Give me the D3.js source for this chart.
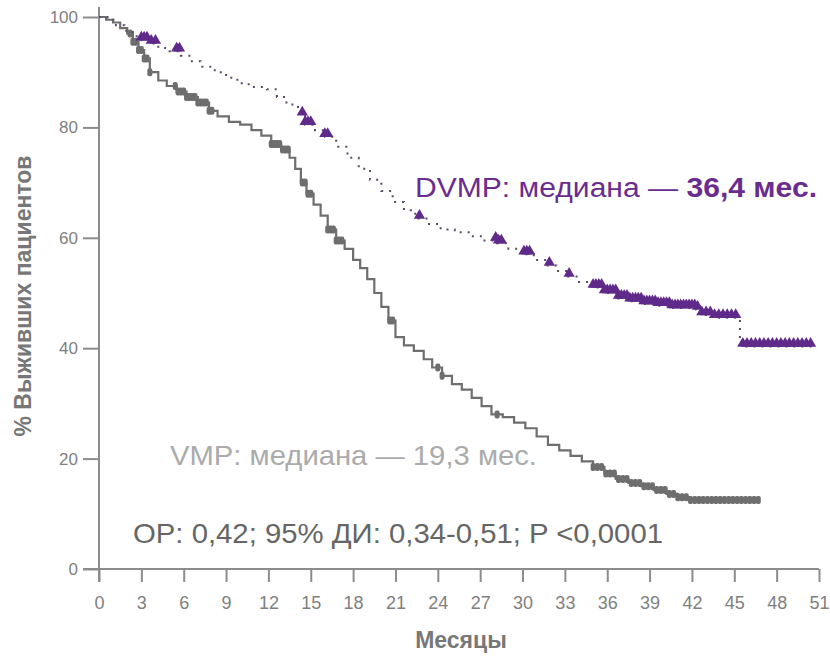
<!DOCTYPE html>
<html>
<head>
<meta charset="utf-8">
<script src="https://cdn.jsdelivr.net/npm/d3@7"></script>
<style>
  html, body { margin: 0; padding: 0; background: #fff; }
  svg { display: block; }
</style>
</head>
<body>
<svg id="chart" width="830" height="657"></svg>
<script>
// Kaplan–Meier overall survival, two treatment arms
const xTicks = [0, 3, 6, 9, 12, 15, 18, 21, 24, 27, 30, 33, 36, 39, 42, 45, 48, 51];
const yTicks = [0, 20, 40, 60, 80, 100];

// VMP arm: step times (months) and survival (%)
const vmpTime = [0, 0.5, 1, 1.5, 2, 2.4, 2.8, 3.2, 3.6, 4.2, 4.8, 5.5, 6.2, 7, 7.8, 8.4, 9.2, 10, 10.8, 11.5, 12.2, 12.9, 13.5, 13.9, 14.3, 14.7, 15.2, 15.7, 16.2, 16.8, 17.4, 18, 18.5, 19, 19.5, 20, 20.5, 21, 21.6, 22.3, 23, 23.6, 24.3, 25, 25.7, 26.4, 27.1, 27.8, 28.6, 29.4, 30.2, 31, 31.8, 32.6, 33.4, 34.2, 35, 35.8, 36.6, 37.5, 38.4, 39.3, 40.2, 41, 41.8, 46.8];
const vmpSurv = [100, 99.5, 99, 98, 97, 95.5, 94, 92.5, 90, 88.5, 87.5, 86.5, 85.5, 84.5, 83, 82, 81, 80.5, 79.5, 78.5, 77, 76, 74.5, 72.5, 70, 68, 66, 64, 61.5, 59.5, 58, 56, 54.5, 52.5, 50, 47.5, 45, 42, 40.5, 39.5, 38, 36.5, 35, 33.5, 32.5, 31, 29.5, 28, 27.5, 26.5, 25.5, 24, 22.5, 21.5, 20.5, 19.5, 18.5, 17.3, 16.3, 15.6, 15, 14.3, 13.6, 13, 12.5, 12.5];
// VMP censored observations (months)
const vmpCensor = [2.2, 2.4, 2.6, 2.8, 3.0, 3.2, 3.4, 3.6, 5.4, 5.6, 5.8, 6.0, 6.2, 6.4, 6.6, 6.8, 7.0, 7.2, 7.4, 7.6, 7.8, 8.0, 12.2, 12.4, 12.6, 12.8, 13.0, 13.2, 13.4, 14.4, 14.6, 14.8, 15.0, 16.2, 16.4, 16.6, 16.8, 17.0, 17.2, 20.6, 20.8, 24.0, 24.3, 28.2, 35.0, 35.3, 35.6, 35.9, 36.2, 36.5, 36.8, 37.1, 37.4, 37.7, 38.0, 38.3, 38.6, 38.9, 39.2, 39.5, 39.8, 40.1, 40.4, 40.7, 41.0, 41.3, 41.6, 41.9, 42.2, 42.5, 42.8, 43.1, 43.4, 43.7, 44.0, 44.3, 44.6, 44.9, 45.2, 45.5, 45.8, 46.1, 46.4, 46.7];

// DVMP arm: step times (months) and survival (%)
const dvmpTime = [0, 0.6, 1.2, 1.8, 2.4, 3, 3.6, 4.2, 5, 5.8, 6.4, 7.2, 8.2, 9, 9.8, 10.6, 11.9, 12.6, 13.2, 13.7, 14.2, 14.6, 15.3, 16, 16.8, 17.6, 18.4, 19.2, 20, 20.8, 21.6, 22.4, 23.2, 24.2, 25.2, 26.3, 27.3, 28.2, 29, 30, 30.8, 31.6, 32.4, 33.2, 34, 35, 35.8, 36.7, 37.5, 38.5, 39.5, 40.5, 42.3, 42.6, 43.5, 45.4, 50.5];
const dvmpSurv = [100, 99.5, 98.5, 97.5, 96.5, 95.8, 95.2, 94.4, 93.8, 93, 92, 91, 90, 89, 88, 87.3, 86.9, 85.5, 84.5, 83.7, 82.2, 80.5, 79.5, 78.3, 76.5, 74.5, 72.5, 70.5, 68.5, 66.5, 65, 63.5, 62.5, 61.5, 61, 60.3, 59.5, 59, 58, 57, 56, 55, 54, 53, 52, 51, 50, 49, 48.5, 48, 47.7, 47.3, 47, 46, 45.5, 40.3, 40.3];
// DVMP censored observations (months)
const dvmpCensor = [3.0, 3.2, 3.4, 3.7, 4.0, 5.5, 5.7, 14.4, 14.6, 14.8, 15.0, 16.0, 16.2, 22.7, 28.1, 28.3, 28.5, 30.1, 30.3, 30.5, 31.9, 33.3, 35.0, 35.2, 35.4, 35.6, 35.8, 36.0, 36.2, 36.4, 36.6, 36.8, 37.0, 37.2, 37.4, 37.6, 37.8, 38.0, 38.2, 38.4, 38.6, 38.8, 39.0, 39.2, 39.4, 39.6, 39.8, 40.0, 40.2, 40.4, 40.6, 40.8, 41.0, 41.2, 41.4, 41.6, 41.8, 42.0, 42.2, 42.4, 42.7, 43.0, 43.3, 43.6, 43.9, 44.2, 44.5, 44.8, 45.1, 45.6, 45.9, 46.2, 46.5, 46.8, 47.1, 47.4, 47.7, 48.0, 48.3, 48.6, 48.9, 49.2, 49.5, 49.8, 50.1, 50.4];

const svg = d3.select("#chart");
const x = d3.scaleLinear().domain([0, 51]).range([99, 819]);
const y = d3.scaleLinear().domain([0, 100]).range([569, 17]);

const axisColor = "#8c8c8c";
const labelColor = "#7f7f7f";

// step-function value at time t
function survAt(times, surv, t) {
  let v = surv[0];
  for (let i = 0; i < times.length; i++) { if (times[i] <= t) v = surv[i]; else break; }
  return v;
}

// axes
const gx = svg.append("g").attr("transform", `translate(0,${y(0)})`)
  .call(d3.axisBottom(x).tickValues(xTicks).tickSize(13).tickPadding(14).tickSizeOuter(0));
gx.select(".domain").remove();
gx.selectAll(".tick line").attr("stroke", axisColor).attr("stroke-width", 2);
gx.selectAll(".tick text").attr("fill", labelColor)
  .style("font-family", "'Liberation Sans Narrow', 'Arial Narrow', sans-serif").style("font-size", "18px");

const gy = svg.append("g").attr("transform", `translate(${x(0)},0)`)
  .call(d3.axisLeft(y).tickValues(yTicks).tickSize(16).tickPadding(5).tickSizeOuter(0));
gy.select(".domain").remove();
gy.selectAll(".tick line").attr("stroke", axisColor).attr("stroke-width", 2);
gy.selectAll(".tick text").attr("fill", labelColor)
  .style("font-family", "'Liberation Sans', Arial, sans-serif").style("font-size", "17px");

// axis lines
svg.append("line").attr("x1", x(0) - 16).attr("x2", x(51)).attr("y1", y(0)).attr("y2", y(0))
  .attr("stroke", axisColor).attr("stroke-width", 2);
svg.append("line").attr("x1", x(0)).attr("x2", x(0)).attr("y1", y(0) + 13).attr("y2", y(100) - 10)
  .attr("stroke", axisColor).attr("stroke-width", 2);

// curves
const line = d3.line().curve(d3.curveStepAfter).x(d => x(d[0])).y(d => y(d[1]));
const vmpData = vmpTime.map((t, i) => [t, vmpSurv[i]]);
const dvmpData = dvmpTime.map((t, i) => [t, dvmpSurv[i]]);

svg.append("path").datum(vmpData).attr("d", line)
  .attr("fill", "none").attr("stroke", "#6e6e6e").attr("stroke-width", 2.2);
svg.append("g").selectAll("rect").data(vmpCensor).join("rect")
  .attr("x", d => x(d) - 2.5).attr("y", d => y(survAt(vmpTime, vmpSurv, d)) - 4)
  .attr("width", 5).attr("height", 8).attr("rx", 2).attr("fill", "#6e6e6e");

svg.append("path").datum(dvmpData).attr("d", line)
  .attr("fill", "none").attr("stroke", "#5a4a66").attr("stroke-width", 2)
  .attr("stroke-dasharray", "2,6");
const tri = d3.symbol().type(d3.symbolTriangle).size(55);
svg.append("g").selectAll("path").data(dvmpCensor).join("path")
  .attr("d", tri)
  .attr("transform", d => `translate(${x(d)},${y(survAt(dvmpTime, dvmpSurv, d)) - 3})`)
  .attr("fill", "#5f2a8a");

// axis titles
svg.append("text").attr("transform", "translate(31,296) rotate(-90)")
  .attr("text-anchor", "middle").attr("fill", "#777")
  .style("font-family", "'Liberation Sans', Arial, sans-serif").style("font-size", "23px").style("font-weight", "bold")
  .text("% Выживших пациентов");
svg.append("text").attr("x", 461).attr("y", 648)
  .attr("text-anchor", "middle").attr("fill", "#777")
  .style("font-family", "'Liberation Sans Narrow', 'Arial Narrow', sans-serif").style("font-size", "23px").style("font-weight", "bold")
  .text("Месяцы");

// annotations
const dv = svg.append("text").attr("x", 415).attr("y", 197).attr("fill", "#6a2c8e")
  .attr("textLength", 402).attr("lengthAdjust", "spacingAndGlyphs")
  .style("font-family", "'Liberation Sans', Arial, sans-serif").style("font-size", "27px");
dv.append("tspan").text("DVMP: медиана — ");
dv.append("tspan").style("font-weight", "bold").text("36,4 мес.");

svg.append("text").attr("x", 170).attr("y", 465).attr("fill", "#ababab")
  .attr("textLength", 367).attr("lengthAdjust", "spacingAndGlyphs")
  .style("font-family", "'Liberation Sans', Arial, sans-serif").style("font-size", "28px")
  .text("VMP: медиана — 19,3 мес.");

svg.append("text").attr("x", 133).attr("y", 543).attr("fill", "#666")
  .attr("textLength", 530).attr("lengthAdjust", "spacingAndGlyphs")
  .style("font-family", "'Liberation Sans', Arial, sans-serif").style("font-size", "28px")
  .text("OP: 0,42; 95% ДИ: 0,34-0,51; P <0,0001");
</script>
</body>
</html>
